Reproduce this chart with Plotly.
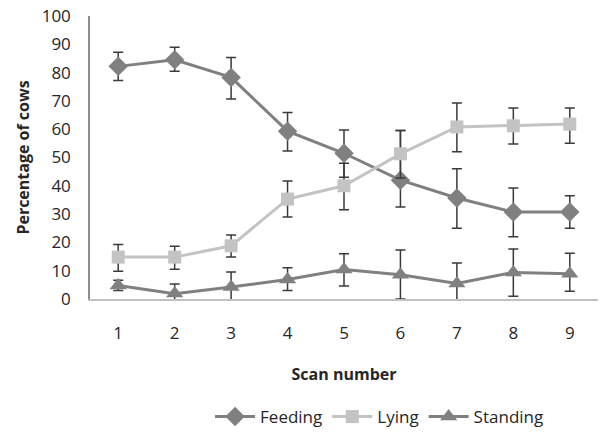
import plotly.graph_objects as go

scans = [1, 2, 3, 4, 5, 6, 7, 8, 9]
tick_labels = ["1", "2", "3", "4", "5", "6", "7", "8", "9"]

feeding = [82.2, 84.5, 78.3, 59.3, 51.5, 42.0, 35.7, 30.7, 30.7]
feeding_err_up = [5.0, 4.5, 7.0, 6.6, 8.2, 17.5, 10.3, 8.5, 5.8]
feeding_err_down = [5.0, 4.0, 7.6, 7.0, 8.5, 9.5, 10.7, 8.7, 5.7]

lying = [14.8, 14.8, 18.8, 35.3, 40.0, 51.3, 60.8, 61.2, 61.8]
lying_err_up = [4.5, 3.8, 3.8, 6.4, 8.0, 8.2, 8.5, 6.3, 5.7]
lying_err_down = [5.0, 4.3, 4.0, 6.3, 8.5, 8.5, 8.8, 6.4, 6.8]

standing = [4.8, 1.9, 4.2, 6.9, 10.4, 8.6, 5.5, 9.4, 8.9]
standing_err_up = [1.8, 3.4, 5.3, 4.1, 5.6, 8.7, 7.2, 8.3, 7.3]
standing_err_down = [1.8, 3.4, 5.6, 3.9, 5.8, 8.6, 7.3, 8.4, 6.2]

fig = go.Figure()

def add_series(name, y, up, down, color, symbol, size):
    fig.add_trace(go.Scatter(
        x=scans, y=y, name=name, mode="lines+markers",
        line=dict(color=color, width=3),
        marker=dict(symbol=symbol, size=size, color=color),
        error_y=dict(type="data", symmetric=False, array=up, arrayminus=down,
                     color="#3a3a3a", thickness=1.5, width=5),
    ))

add_series("Feeding", feeding, feeding_err_up, feeding_err_down, "#808080", "diamond", 15)
add_series("Lying", lying, lying_err_up, lying_err_down, "#c3c3c3", "square", 13)
add_series("Standing", standing, standing_err_up, standing_err_down, "#808080", "triangle-up", 15)

fig.update_layout(
    width=605, height=432,
    margin=dict(l=90, r=7, t=16, b=133, autoexpand=False),
    paper_bgcolor="white", plot_bgcolor="white",
    font=dict(family="Open Sans", size=17, color="#262626"),
    showlegend=True,
    legend=dict(orientation="h", x=0.57, xanchor="center", y=-0.417, yanchor="middle",
                font=dict(size=17), itemwidth=40, traceorder="normal"),
    xaxis=dict(
        range=[0.5, 9.5], tickmode="array", tickvals=scans, ticktext=tick_labels,
        showgrid=False, zeroline=False, showline=True, linecolor="#c0c0c0", linewidth=1.5,
        ticks="", ticklabelstandoff=18, automargin=False,
        title=dict(text="<b>Scan number</b>", font=dict(size=16), standoff=26),
    ),
    yaxis=dict(
        range=[0, 100], tickvals=list(range(0, 101, 10)),
        showgrid=False, zeroline=False, showline=True, linecolor="#8c8c8c", linewidth=1.5,
        ticks="", ticklabelstandoff=14, automargin=False,
        title=dict(text="<b>Percentage of cows</b>", font=dict(size=16), standoff=8),
    ),
)

fig.write_html("out.html", config={"displayModeBar": False},
               post_script="document.body.style.margin='0';document.body.style.overflow='hidden';")
